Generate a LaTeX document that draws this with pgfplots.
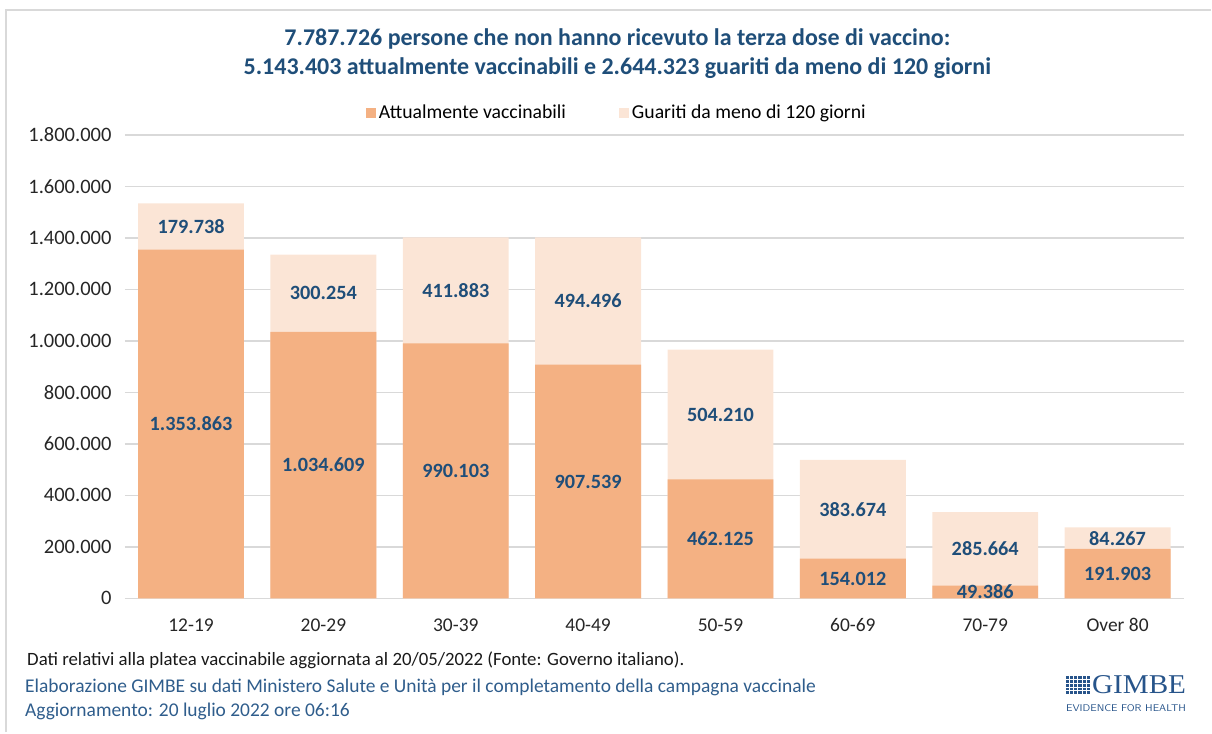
\documentclass[border=0pt]{standalone}
\usepackage{pgfplots}
\pgfplotsset{compat=1.18}
\usepackage{pgfplotstable}
\usepackage{graphicx}
\usepackage{fontspec}
\setmainfont{Carlito}
\newfontfamily\logofont{Liberation Serif}
\definecolor{vacc}{HTML}{F4B183}
\definecolor{guar}{HTML}{FBE5D6}
\definecolor{navy}{HTML}{1F4E79}
\definecolor{footblue}{HTML}{2F5D8C}
\definecolor{gridc}{HTML}{D9D9D9}
\definecolor{logoblue}{HTML}{27548A}

% x, attualmente vaccinabili, guariti < 120 giorni, labels
\pgfplotstableread{
x a b la lb
0 1353863 179738 1.353.863 179.738
1 1034609 300254 1.034.609 300.254
2 990103 411883 990.103 411.883
3 907539 494496 907.539 494.496
4 462125 504210 462.125 504.210
5 154012 383674 154.012 383.674
6 49386 285664 49.386 285.664
7 191903 84267 191.903 84.267
}\data

\begin{document}
\begin{tikzpicture}
\path (-93.75pt,-100.5pt) rectangle (815.25pt,449.25pt);
\draw[gridc, line width=1.9pt] (-89.25pt,-100.5pt) -- (-89.25pt,441.75pt) -- (815.25pt,441.75pt);
\begin{axis}[
  scale only axis, width=795pt, height=348pt,
  xmin=-0.5, xmax=7.5, ymin=0, ymax=1800000,
  separate axis lines,
  axis x line*=bottom, axis y line*=left,
  y axis line style={draw=none},
  x axis line style={gridc, line width=1.2pt},
  major tick length=0pt,
  ymajorgrids, grid style={gridc, line width=1.2pt},
  xtick={0,...,7},
  xticklabels={12-19,20-29,30-39,40-49,50-59,60-69,70-79,Over 80},
  ytick={0,200000,400000,600000,800000,1000000,1200000,1400000,1600000,1800000},
  yticklabels={0,200.000,400.000,600.000,800.000,1.000.000,1.200.000,1.400.000,1.600.000,1.800.000},
  scaled y ticks=false,
  /pgf/number format/assume math mode=true,
  ticklabel style={text=black!85},
  xticklabel style={font=\fontsize{14.6}{17}\selectfont, anchor=base, yshift=-24.5pt},
  yticklabel style={font=\fontsize{15.4}{17}\selectfont, anchor=east, xshift=-6.5pt},
  legend columns=2, reverse legend,
  legend style={at={(0.4651,1.0474)}, anchor=center, draw=none, fill=none,
    font=\fontsize{14.8}{17}\selectfont,
    /tikz/every even column/.append style={column sep=38pt}},
  legend image code/.code={\fill[#1] (-3pt,-3.75pt) rectangle (4.5pt,3.75pt);},
  nodes near coords style={font=\bfseries\fontsize{15.2}{17}\selectfont, text=navy, anchor=center},
]
\addplot[ybar, bar width=79.5pt, bar shift=0pt, fill=guar, draw=none]
  table[x=x, y expr=\thisrow{a}+\thisrow{b}] {\data};
\addlegendentry{Guariti da meno di 120 giorni}
\addplot[ybar, bar width=79.5pt, bar shift=0pt, fill=vacc, draw=none]
  table[x=x, y=a] {\data};
\addlegendentry{Attualmente vaccinabili}
\addplot[draw=none, mark=none, forget plot, nodes near coords, point meta=explicit symbolic]
  table[x=x, y expr=\thisrow{a}/2, meta=la] {\data};
\addplot[draw=none, mark=none, forget plot, nodes near coords, point meta=explicit symbolic]
  table[x=x, y expr=\thisrow{a}+\thisrow{b}/2, meta=lb] {\data};
\end{axis}
\node[font=\bfseries\fontsize{18}{21}\selectfont, text=navy] at (369.75pt,420pt)
  {7.787.726 persone che non hanno ricevuto la terza dose di vaccino:};
\node[font=\bfseries\fontsize{18}{21}\selectfont, text=navy] at (369.75pt,398.25pt)
  {5.143.403 attualmente vaccinabili e 2.644.323 guariti da meno di 120 giorni};
\node[anchor=west, inner sep=0pt, font=\fontsize{14.1}{16}\selectfont, text=black!90] at (-73.5pt,-46.5pt)
  {Dati relativi alla platea vaccinabile aggiornata al 20/05/2022 (Fonte: Governo italiano).};
\node[anchor=west, inner sep=0pt, font=\fontsize{14.6}{16}\selectfont, text=footblue] at (-75pt,-66.75pt)
  {Elaborazione GIMBE su dati Ministero Salute e Unità per il completamento della campagna vaccinale};
\node[anchor=west, inner sep=0pt, font=\fontsize{14.6}{16}\selectfont, text=footblue] at (-75pt,-84.75pt)
  {Aggiornamento: 20 luglio 2022 ore 06:16};
% logo
\foreach \i in {0,...,5} {
  \foreach \j in {0,...,4} {
    \fill[logoblue] (706.5pt+\i*3.15pt,-72pt+\j*2.88pt) rectangle ++(2.3pt,2.1pt);
  }
}
\node[anchor=south west, inner sep=0pt, text=logoblue] at (726pt,-72pt)
  {\resizebox{70.5pt}{13.5pt}{\logofont GIMBE}};
\node[anchor=south west, inner sep=0pt, text=logoblue] at (706.5pt,-85pt)
  {\resizebox{90pt}{5.25pt}{\sffamily\addfontfeature{LetterSpace=12} EVIDENCE FOR HEALTH}};
\end{tikzpicture}
\end{document}
